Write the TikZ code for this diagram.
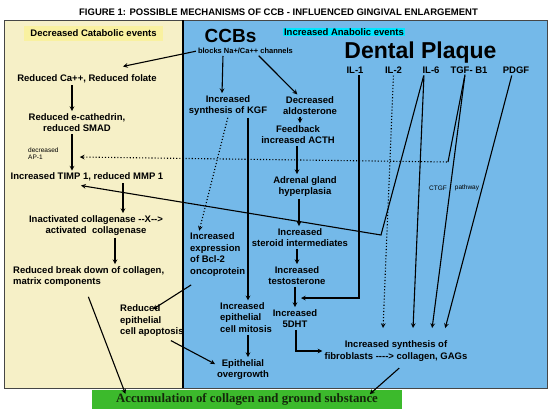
\documentclass[tikz,border=0pt]{standalone}
\usepackage{fontspec}
\setmainfont{Liberation Serif}
\setsansfont{Liberation Sans}
\definecolor{catbg}{RGB}{246,240,199}
\definecolor{anabg}{RGB}{116,185,233}
\definecolor{cathl}{RGB}{249,241,160}
\definecolor{anahl}{RGB}{0,230,255}
\definecolor{accgreen}{RGB}{60,186,44}
\definecolor{framec}{RGB}{70,70,70}
\tikzset{
  txt/.style={font=\sffamily\bfseries\fontsize{9.5}{11.5}\selectfont, align=center, inner sep=1pt},
  note/.style={font=\sffamily\bfseries\fontsize{7.5}{8}\selectfont, inner sep=1pt},
  sml/.style={font=\sffamily\fontsize{6.5}{7}\selectfont, align=left, inner sep=0pt},
  big/.style={font=\sffamily\bfseries\fontsize{#1}{#1}\selectfont, inner sep=0pt},
  lnk/.style={line width=1.1pt, ->, shorten <=1pt, shorten >=1pt},
}
\begin{document}
\begin{tikzpicture}[x=1pt,y=-1pt,>=stealth]
\useasboundingbox (0,0) rectangle (550,413);
% panels
\fill[catbg] (4,20) rectangle (183,388);
\fill[anabg] (183,20) rectangle (547,388);
\draw[framec,line width=1pt] (4,20) rectangle (547,388);
\draw[line width=1.5pt] (183,20) -- (183,388);
\node[txt] (title) at (278.5,12) {FIGURE 1: POSSIBLE MECHANISMS OF CCB - INFLUENCED GINGIVAL ENLARGEMENT};
\node[txt,fill=cathl,minimum width=139pt,minimum height=15pt] (catlab) at (93.5,33.5) {Decreased Catabolic events};
\node[txt,fill=anahl] (analab) at (344,32) {Increased Anabolic events};
\node[big=19] (ccbs) at (230.5,36) {CCBs};
\node[big=23,anchor=base] (plaque) at (420.5,58) {Dental Plaque};
\node[note] (blocks) at (245.5,51) {blocks Na+/Ca++ channels};
% cytokines
\node[txt] (il1) at (355,70) {IL-1};
\node[txt] (il2) at (393.5,70) {IL-2};
\node[txt] (il6) at (431,70) {IL-6};
\node[txt] (tgf) at (469,70) {TGF- B1};
\node[txt] (pdgf) at (516,70) {PDGF};
% catabolic side
\node[txt] (caf) at (87,79) {Reduced Ca++, Reduced folate};
\node[txt] (ecad) at (77,122.5) {Reduced e-cathedrin,\\reduced SMAD};
\node[sml,anchor=west] (ap1) at (28,153.5) {decreased\\AP-1};
\node[txt] (timp) at (87,177) {Increased TIMP 1, reduced MMP 1};
\node[txt] (coll) at (96,225.5) {Inactivated collagenase -{}-X-{}->\\activated\ \ collagenase};
\node[txt,align=left,anchor=west] (brk) at (12,276.5) {Reduced break down of collagen,\\matrix components};
\node[txt,align=left,anchor=west] (apop) at (119,321) {Reduced\\epithelial\\cell apoptosis};
% anabolic side
\node[txt] (kgf) at (228,105.5) {Increased\\synthesis of KGF};
\node[txt] (aldo) at (310,105.5) {Decreased\\aldosterone};
\node[txt] (acth) at (298,134.5) {Feedback\\increased ACTH};
\node[txt] (adr) at (305,186.5) {Adrenal gland\\hyperplasia};
\node[txt] (ster) at (300,237.5) {Increased\\steroid intermediates};
\node[txt] (test) at (297,275.5) {Increased\\testosterone};
\node[txt] (dht) at (295,318.5) {Increased\\5DHT};
\node[txt,align=left,anchor=west] (bcl) at (189,254.5) {Increased\\expression\\of Bcl-2\\oncoprotein};
\node[txt,align=left,anchor=west] (mit) at (219,317.5) {Increased\\epithelial\\cell mitosis};
\node[txt] (epo) at (243,369.5) {Epithelial\\overgrowth};
\node[txt] (fib) at (396,351) {Increased synthesis of\\fibroblasts -{}-{}-{}-> collagen, GAGs};
\node[sml] (ctgf) at (438,188) {CTGF};
\node[sml] (pathw) at (467,188) {pathway};
\node[fill=accgreen,minimum width=310pt,minimum height=19pt,inner sep=0pt,
  font=\rmfamily\bfseries\fontsize{12.8}{14}\selectfont,text={rgb,255:red,20;green,40;blue,10}]
  (accum) at (247,399.5) {Accumulation of collagen and ground substance};
\coordinate (il6k) at (381,235);
\coordinate (tgfk) at (448,162);
\coordinate (dhtin) at (300,298);
\coordinate (fibtop) at (0,329);
% catabolic arrows
\draw[lnk] (blocks.west) -- ([xshift=35pt,yshift=7pt]caf.north);
\draw[lnk] (caf.south -| 72,0) -- (ecad.north -| 72,0);
\draw[lnk] (ecad.south -| 72,0) -- (timp.north -| 72,0);
\draw[lnk] (timp.south -| 123,0) -- (coll.north -| 123,0);
\draw[lnk] (coll.south -| 115,0) -- (brk.north -| 115,0);
\draw[lnk] ([xshift=76pt,yshift=-8pt]brk.south west) -- ([xshift=34pt,yshift=-5pt]accum.north west);
% anabolic arrows
\draw[lnk] (blocks.south -| 223,0) -- (kgf.north -| 222,0);
\draw[lnk] (blocks.south -| 258,0) -- (aldo.north -| 298,0);
\draw[lnk] (aldo.south -| 300,0) -- (acth.north -| 300,0);
\draw[lnk] (acth.south -| 297,0) -- (adr.north -| 297,0);
\draw[lnk] (adr.south -| 299,0) -- (ster.north -| 299,0);
\draw[lnk] (ster.south -| 297,0) -- (test.north -| 297,0);
\draw[lnk] (test.south -| 295,0) -- (dht.north -| 295,0);
\draw[lnk] (dht.south -| 296,0) |- (fib.west);
\draw[lnk,dotted] (kgf.south) -- ([xshift=10pt]bcl.north west);
\draw[lnk] (kgf.south -| 248,0) -- (mit.north -| 248,0);
\draw[lnk] (mit.south -| 248,0) -- (epo.north -| 248,0);
\draw[lnk] ([xshift=3pt,yshift=-7pt]bcl.south west) -- ([xshift=33pt,yshift=-6pt]apop.north west);
\draw[lnk] ([xshift=51pt,yshift=-2pt]apop.south west) -- ([yshift=5pt]epo.west);
\draw[lnk] ([xshift=4pt,yshift=-5pt]fib.south) -- ([xshift=122pt,yshift=-5pt]accum.north);
% plaque lines
\draw[lnk] ([xshift=4pt]il1.south) |- (dhtin);
\draw[lnk,dotted] (il2.south) -- (383,0 |- fibtop);
\draw[lnk] ([xshift=-7pt]il6.south) -- (413,0 |- fibtop);
\draw[lnk] ([xshift=-7pt]il6.south) -- (il6k) -- ([xshift=-7pt,yshift=-3pt]timp.south);
\draw[lnk] ([xshift=-4pt]tgf.south) -- (432,0 |- fibtop);
\draw[line width=1.1pt] ([xshift=-4pt]tgf.south) -- (tgfk);
\draw[lnk,dotted] (tgfk) -- ([xshift=20pt,yshift=-3.5pt]ap1.east);
\draw[lnk] ([xshift=-4pt]pdgf.south) -- (445,0 |- fibtop);
\end{tikzpicture}
\end{document}
